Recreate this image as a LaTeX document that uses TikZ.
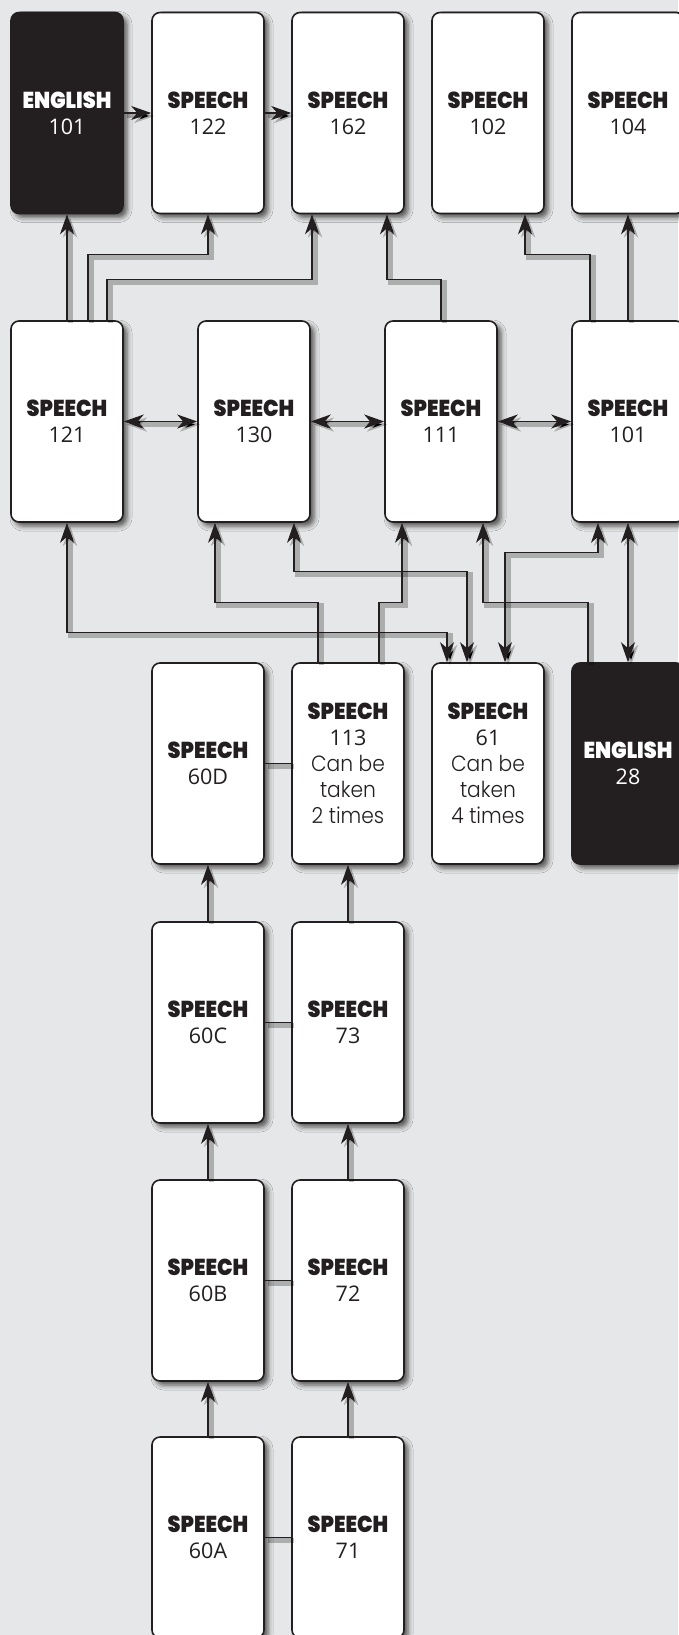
\documentclass[tikz,border=0pt]{standalone}
\usepackage{fontspec}
\usetikzlibrary{arrows.meta,shadows.blur,calc}
\newfontfamily\heavyfont{Poppins Black}[FakeStretch=0.9]
\newfontfamily\numfont{Open Sans}
\newfontfamily\lightfont{Poppins Light}[FakeStretch=0.92]
\definecolor{bg}{RGB}{230,231,232}
\definecolor{ink}{RGB}{35,31,32}
\newcommand\hd[1]{{\heavyfont\fontsize{23}{27}\selectfont #1}}
\newcommand\lt[1]{{\lightfont\fontsize{22}{26}\selectfont #1}}
\tikzset{
  box/.style={draw=ink, line width=1.6pt, rounded corners=8pt, fill=white,
    minimum width=112pt, minimum height=201pt, inner sep=0pt, align=center,
    text=ink, font=\numfont\fontsize{21.5}{26}\selectfont,
    blur shadow={shadow xshift=4pt, shadow yshift=-4pt, shadow blur radius=5pt, shadow opacity=65}},
  dark/.style={box, fill=ink, text=white},
  conn/.style={draw=ink, line width=1.3pt,
    preaction={draw=black, draw opacity=0.25, line width=5pt, transform canvas={shift={(3pt,-3pt)}}}},
  tip/.tip={Stealth[length=20pt,width=14pt,inset=6pt]},
  arr/.style={conn, -tip},
  darr/.style={conn, tip-tip}
}
\begin{document}
\begin{tikzpicture}[x=1pt,y=-1pt]
\fill[bg] (0,0) rectangle (678,1635);
\useasboundingbox (0,0) rectangle (678,1635);
% row 1
\node[dark] (E101) at (67,113) {\hd{ENGLISH}\\101};
\node[box] (S122) at (208,113) {\hd{SPEECH}\\122};
\node[box] (S162) at (348,113) {\hd{SPEECH}\\162};
\node[box] (S102) at (488,113) {\hd{SPEECH}\\102};
\node[box] (S104) at (628,113) {\hd{SPEECH}\\104};
% row 2
\node[box] (S121) at (67,421.5) {\hd{SPEECH}\\121};
\node[box] (S130) at (254,421.5) {\hd{SPEECH}\\130};
\node[box] (S111) at (441,421.5) {\hd{SPEECH}\\111};
\node[box] (S101) at (628,421.5) {\hd{SPEECH}\\101};
% row 3
\node[box] (S60D) at (208,763.5) {\hd{SPEECH}\\60D};
\node[box] (S113) at (348,763.5) {\hd{SPEECH}\\113\\\lt{Can be}\\\lt{taken}\\\lt{2 times}};
\node[box] (S61) at (488,763.5) {\hd{SPEECH}\\61\\\lt{Can be}\\\lt{taken}\\\lt{4 times}};
\node[dark] (E28) at (628,763.5) {\hd{ENGLISH}\\28};
% rows 4-6
\node[box] (S60C) at (208,1022.5) {\hd{SPEECH}\\60C};
\node[box] (S73) at (348,1022.5) {\hd{SPEECH}\\73};
\node[box] (S60B) at (208,1280.5) {\hd{SPEECH}\\60B};
\node[box] (S72) at (348,1280.5) {\hd{SPEECH}\\72};
\node[box] (S60A) at (208,1537.5) {\hd{SPEECH}\\60A};
\node[box] (S71) at (348,1537.5) {\hd{SPEECH}\\71};
% row 1 links
\draw[arr] (E101.east) -- (S122.west);
\draw[arr] (S122.east) -- (S162.west);
% row 2 -> row 1
\draw[arr] (S121.north) -- (E101.south);
\draw[arr] ([xshift=21pt]S121.north) -- ++(0,-66) -| (S122.south);
\draw[arr] ([xshift=40pt]S121.north) -- ++(0,-41) -| ([xshift=-36pt]S162.south);
\draw[arr] (S111.north) -- ++(0,-41) -| ([xshift=39pt]S162.south);
\draw[arr] ([xshift=-38pt]S101.north) -- ++(0,-66) -| ([xshift=37pt]S102.south);
\draw[arr] (S101.north) -- (S104.south);
% row 2 horizontals
\draw[darr] (S121.east) -- (S130.west);
\draw[darr] (S130.east) -- (S111.west);
\draw[darr] (S111.east) -- (S101.west);
% row 3 <-> row 2
\draw[darr] (S121.south) -- ++(0,110) -| ([xshift=-41pt]S61.north);
\draw[darr] ([xshift=40pt]S130.south) -- ++(0,49) -| ([xshift=-21pt]S61.north);
\draw[darr] ([xshift=-30pt]S101.south) -- ++(0,30) -| ([xshift=17pt]S61.north);
\draw[arr] ([xshift=-30pt]S113.north) -- ++(0,-60) -| ([xshift=-39pt]S130.south);
\draw[arr] ([xshift=31pt]S113.north) -- ++(0,-60) -| ([xshift=-39pt]S111.south);
\draw[arr] ([xshift=-40pt]E28.north) -- ++(0,-60) -| ([xshift=42pt]S111.south);
\draw[darr] (S101.south) -- (E28.north);
% lower columns
\draw[conn] (S60D.east) -- (S113.west);
\draw[conn] (S60C.east) -- (S73.west);
\draw[conn] (S60B.east) -- (S72.west);
\draw[conn] (S60A.east) -- (S71.west);
\draw[arr] (S60C.north) -- (S60D.south);
\draw[arr] (S73.north) -- (S113.south);
\draw[arr] (S60B.north) -- (S60C.south);
\draw[arr] (S72.north) -- (S73.south);
\draw[arr] (S60A.north) -- (S60B.south);
\draw[arr] (S71.north) -- (S72.south);
\end{tikzpicture}
\end{document}
